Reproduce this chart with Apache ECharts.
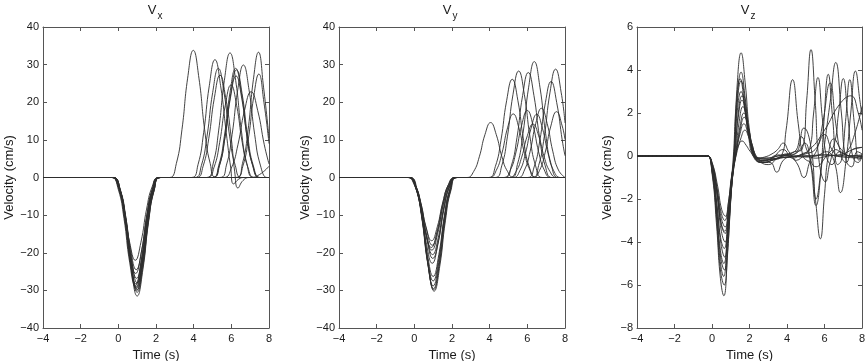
<!DOCTYPE html>
<html>
<head>
<meta charset="utf-8">
<script src="https://cdn.jsdelivr.net/npm/echarts@6/dist/echarts.min.js"></script>
<style>
  html, body { margin: 0; padding: 0; background: #fff; }
  #show { width: 865px; height: 361px; }
</style>
</head>
<body>
<div id="show"></div>
<script>
var myChart = echarts.init(document.getElementById("show"));

// time axis and velocity axes
var timeRange = [-4, 8], timeStep = 2;
var vxRange = [-40, 40], vxStep = 10;
var vyRange = [-40, 40], vyStep = 10;
var vzRange = [-8, 6], vzStep = 2;

// traces, [time (s), velocity (cm/s)]
var vxTraces = [
    [[-4,0],[-0.8,0],[-0.35,0],[0,-2.4],[0.3,-8.4],[0.6,-17.2],[0.9,-22],[1.2,-17.2],[1.5,-8.4],[1.8,-2.4],[2.15,0],[2.73,0],[3.08,3.7],[3.38,12.8],[3.68,26.4],[3.98,33.8],[4.28,26.4],[4.58,12.8],[4.88,3.7],[5.23,0],[8,0]],
    [[-4,0],[-0.8,0],[-0.3,0],[0.05,-2.7],[0.35,-9.3],[0.65,-19.1],[0.95,-24.5],[1.25,-19.1],[1.55,-9.3],[1.85,-2.7],[2.2,0],[3.88,0],[4.23,3.4],[4.53,11.9],[4.83,24.4],[5.13,31.3],[5.43,24.4],[5.73,11.9],[5.97,2.5],[6.12,-1.7],[6.4,-0.4],[6.7,0],[8,0]],
    [[-4,0],[-0.8,0],[-0.33,0],[0.02,-2.8],[0.32,-9.7],[0.62,-19.9],[0.92,-25.5],[1.22,-19.9],[1.52,-9.7],[1.82,-2.8],[2.17,0],[4.06,0],[4.41,3.2],[4.71,11],[5.01,22.6],[5.31,29],[5.61,22.6],[5.91,11],[6.21,3.2],[6.56,0],[8,0]],
    [[-4,0],[-0.8,0],[-0.25,0],[0.1,-3.1],[0.4,-10.6],[0.7,-21.8],[1.0,-28],[1.3,-21.8],[1.6,-10.6],[1.9,-3.1],[2.25,0],[4.15,0],[4.5,3],[4.8,10.3],[5.1,21.2],[5.4,27.2],[5.7,21.2],[6.0,10.3],[6.18,1.5],[6.35,-2.8],[6.62,-0.8],[6.95,0],[8,0]],
    [[-4,0],[-0.8,0],[-0.3,0],[0.05,-3.2],[0.35,-11],[0.65,-22.6],[0.95,-29],[1.25,-22.6],[1.55,-11],[1.85,-3.2],[2.2,0],[4.68,0],[5.03,3.6],[5.33,12.6],[5.63,25.8],[5.93,33.1],[6.23,25.8],[6.53,12.6],[6.83,3.6],[7.18,0],[8,0]],
    [[-4,0],[-0.8,0],[-0.28,0],[0.07,-3.2],[0.37,-11.2],[0.67,-23],[0.97,-29.5],[1.27,-23],[1.57,-11.2],[1.87,-3.2],[2.22,0],[4.73,0],[5.08,2.7],[5.38,9.3],[5.68,19.2],[5.98,24.6],[6.28,19.2],[6.58,9.3],[6.88,2.7],[7.23,0],[8,0]],
    [[-4,0],[-0.8,0],[-0.25,0],[0.1,-3.4],[0.4,-11.6],[0.7,-23.8],[1.0,-30.5],[1.3,-23.8],[1.6,-11.6],[1.9,-3.4],[2.25,0],[4.98,0],[5.33,3.2],[5.63,11],[5.93,22.6],[6.23,29],[6.53,22.6],[6.83,11],[7.13,3.2],[7.48,0],[8,0]],
    [[-4,0],[-0.8,0],[-0.35,0],[0,-3.2],[0.3,-10.9],[0.6,-22.5],[0.9,-28.8],[1.2,-22.5],[1.5,-10.9],[1.8,-3.2],[2.15,0],[5.02,0],[5.37,3.1],[5.67,10.9],[5.97,22.3],[6.27,28.6],[6.57,22.3],[6.87,10.9],[7.17,3.1],[7.52,0],[8,0]],
    [[-4,0],[-0.8,0],[-0.25,0],[0.1,-3.5],[0.4,-12],[0.7,-24.6],[1.0,-31.5],[1.3,-24.6],[1.6,-12],[1.9,-3.5],[2.25,0],[5.0,0],[5.35,3],[5.65,10.3],[5.95,21.1],[6.25,27],[6.55,21.1],[6.85,10.3],[7.15,3],[7.5,0],[8,0]],
    [[-4,0],[-0.8,0],[-0.3,0],[0.05,-3.2],[0.35,-11.1],[0.65,-22.9],[0.95,-29.3],[1.25,-22.9],[1.55,-11.1],[1.85,-3.2],[2.2,0],[5.39,0],[5.74,3.3],[6.04,11.4],[6.34,23.3],[6.64,29.9],[6.94,23.3],[7.24,11.4],[7.54,3.3],[7.89,0],[8,0]],
    [[-4,0],[-0.8,0],[-0.27,0],[0.08,-3.3],[0.38,-11.4],[0.68,-23.4],[0.98,-30],[1.28,-23.4],[1.58,-11.4],[1.88,-3.3],[2.23,0],[5.6,0],[6.0,2.5],[6.35,8.7],[6.7,17.8],[7.05,22.8],[7.4,17.8],[7.75,8.7],[8,3.6]],
    [[-4,0],[-0.8,0],[-0.25,0],[0.1,-3.3],[0.4,-11.3],[0.7,-23.2],[1.0,-29.8],[1.3,-23.2],[1.6,-11.3],[1.9,-3.3],[2.25,0],[6.24,0],[6.59,3.7],[6.89,12.7],[7.17,26],[7.44,33.3],[7.71,24],[8,10.5]],
    [[-4,0],[-0.8,0],[-0.32,0],[0.03,-3.1],[0.33,-10.8],[0.63,-22.1],[0.93,-28.3],[1.23,-22.1],[1.53,-10.8],[1.83,-3.1],[2.18,0],[6.26,0],[6.61,3],[6.91,10.5],[7.19,21.5],[7.46,27.5],[7.73,20],[8,9]],
    [[-4,0],[-0.8,0],[-0.28,0],[0.07,-2.9],[0.37,-10.2],[0.67,-20.9],[0.97,-26.8],[1.27,-20.9],[1.57,-10.2],[1.87,-2.9],[2.22,0],[7.0,0],[7.5,0.8],[8,3]]
];

var vyTraces = [
    [[-4,0],[-0.8,0],[-0.33,0],[0.02,-1.8],[0.32,-6.4],[0.62,-13.1],[0.92,-16.8],[1.22,-13.1],[1.52,-6.4],[1.82,-1.8],[2.17,0],[2.8,0],[3.15,1.6],[3.45,5.5],[3.75,11.4],[4.05,14.6],[4.35,11.4],[4.65,5.5],[4.95,1.6],[5.3,0],[8,0]],
    [[-4,0],[-0.8,0],[-0.3,0],[0.05,-2],[0.35,-6.8],[0.65,-14],[0.95,-18],[1.25,-14],[1.55,-6.8],[1.85,-2],[2.2,0],[3.95,0],[4.3,2.9],[4.6,9.9],[4.9,20.4],[5.2,26.1],[5.5,20.4],[5.8,9.9],[6.1,2.9],[6.45,0],[8,0]],
    [[-4,0],[-0.8,0],[-0.35,0],[0,-2],[0.3,-7.1],[0.6,-14.5],[0.9,-18.6],[1.2,-14.5],[1.5,-7.1],[1.8,-2],[2.15,0],[4.0,0],[4.35,1.9],[4.65,6.4],[4.95,13.2],[5.25,16.9],[5.55,13.2],[5.85,6.4],[6.15,1.9],[6.5,0],[8,0]],
    [[-4,0],[-0.8,0],[-0.32,0],[0.03,-2.1],[0.33,-7.3],[0.63,-15.1],[0.93,-19.3],[1.23,-15.1],[1.53,-7.3],[1.83,-2.1],[2.18,0],[4.29,0],[4.64,3.1],[4.94,10.8],[5.24,22.1],[5.54,28.3],[5.84,22.1],[6.14,10.8],[6.44,3.1],[6.79,0],[8,0]],
    [[-4,0],[-0.8,0],[-0.28,0],[0.07,-2.3],[0.37,-7.8],[0.67,-16],[0.97,-20.5],[1.27,-16],[1.57,-7.8],[1.87,-2.3],[2.22,0],[4.8,0],[5.15,3.1],[5.45,10.6],[5.75,21.8],[6.05,27.9],[6.35,21.8],[6.65,10.6],[6.95,3.1],[7.3,0],[8,0]],
    [[-4,0],[-0.8,0],[-0.27,0],[0.08,-2.4],[0.38,-8.2],[0.68,-16.8],[0.98,-21.5],[1.28,-16.8],[1.58,-8.2],[1.88,-2.4],[2.23,0],[4.75,0],[5.1,2],[5.4,6.8],[5.7,13.9],[6.0,17.8],[6.3,13.9],[6.6,6.8],[6.9,2],[7.25,0],[8,0]],
    [[-4,0],[-0.8,0],[-0.3,0],[0.05,-2.5],[0.35,-8.7],[0.65,-17.8],[0.95,-22.8],[1.25,-17.8],[1.55,-8.7],[1.85,-2.5],[2.2,0],[5.12,0],[5.47,3.4],[5.77,11.7],[6.07,24],[6.37,30.8],[6.67,24],[6.97,11.7],[7.27,3.4],[7.62,0],[8,0]],
    [[-4,0],[-0.8,0],[-0.25,0],[0.1,-2.9],[0.4,-10],[0.7,-20.5],[1.0,-26.3],[1.3,-20.5],[1.6,-10],[1.9,-2.9],[2.25,0],[5.05,0],[5.4,1.6],[5.7,5.4],[6.0,11.1],[6.3,14.2],[6.6,11.1],[6.9,5.4],[7.2,1.6],[7.55,0],[8,0]],
    [[-4,0],[-0.8,0],[-0.25,0],[0.1,-3],[0.4,-10.5],[0.7,-21.5],[1.0,-27.5],[1.3,-21.5],[1.6,-10.5],[1.9,-3],[2.25,0],[5.25,0],[5.6,1.8],[5.9,6.4],[6.2,13.1],[6.5,16.8],[6.8,13.1],[7.1,6.4],[7.4,1.8],[7.75,0],[8,0]],
    [[-4,0],[-0.8,0],[-0.25,0],[0.1,-3.2],[0.4,-10.9],[0.7,-22.5],[1.0,-28.8],[1.3,-22.5],[1.6,-10.9],[1.9,-3.2],[2.25,0],[5.5,0],[5.85,2],[6.15,7],[6.45,14.4],[6.75,18.4],[7.05,14.4],[7.35,7],[7.65,2],[8,0]],
    [[-4,0],[-0.8,0],[-0.23,0],[0.12,-3.2],[0.42,-11.2],[0.72,-23],[1.02,-29.5],[1.32,-23],[1.62,-11.2],[1.92,-3.2],[2.27,0],[6.01,0],[6.36,2.8],[6.66,9.7],[6.96,19.9],[7.26,25.5],[7.56,19.9],[7.86,9.7],[8,5.8]],
    [[-4,0],[-0.8,0],[-0.22,0],[0.13,-3.3],[0.43,-11.3],[0.73,-23.2],[1.03,-29.8],[1.33,-23.2],[1.63,-11.3],[1.93,-3.3],[2.28,0],[6.25,0],[6.6,3.2],[6.9,10.9],[7.2,22.5],[7.5,28.8],[7.8,22.5],[8,14.5]],
    [[-4,0],[-0.8,0],[-0.2,0],[0.15,-3.3],[0.45,-11.5],[0.75,-23.6],[1.05,-30.2],[1.35,-23.6],[1.65,-11.5],[1.95,-3.3],[2.3,0],[6.3,0],[6.65,1.9],[6.95,6.7],[7.25,13.7],[7.55,17.5],[7.85,13.7],[8,10.1]]
];

var vzTraces = [
    [[-4,0],[-0.6,0],[-0.25,0],[0,-0.8],[0.25,-3.3],[0.45,-5.7],[0.63,-6.5],[0.82,-4.7],[1.0,-2.0],[1.17,0],[1.35,3.4],[1.55,4.8],[1.77,3.4],[2.0,1.2],[2.3,-0.1],[2.7,-0.3],[3.2,-0.2],[3.8,0],[4.4,0.2],[4.8,0.3],[5.05,2.6],[5.28,4.95],[5.5,2.6],[5.72,-0.3],[6.05,-1.2],[6.3,-0.3],[6.6,0.3],[7.0,0.1],[7.5,0],[8,0]],
    [[-4,0],[-0.6,0],[-0.25,0],[0,-0.7],[0.25,-3.0],[0.45,-5.3],[0.65,-6.0],[0.84,-4.3],[1.02,-1.8],[1.18,0],[1.35,2.7],[1.55,3.9],[1.77,2.7],[2.0,1.0],[2.3,-0.1],[2.7,-0.3],[3.2,-0.2],[3.7,0],[3.95,1.2],[4.3,3.55],[4.6,1.5],[4.85,0],[5.05,-0.2],[5.25,-0.3],[5.5,-1.9],[5.78,-3.85],[6.0,-1.8],[6.2,0],[6.5,0.8],[6.9,0.3],[7.4,0],[8,0]],
    [[-4,0],[-0.6,0],[-0.25,0],[0,-0.7],[0.25,-2.8],[0.44,-4.9],[0.62,-5.6],[0.8,-4.0],[0.98,-1.7],[1.14,0],[1.3,2.5],[1.5,3.6],[1.72,2.5],[1.95,0.9],[2.25,-0.1],[2.7,-0.3],[3.1,-0.3],[3.45,-0.75],[3.8,-0.2],[4.2,0],[4.6,0.2],[4.95,0.6],[5.25,-0.3],[5.55,-2.3],[5.8,-0.8],[5.97,1.6],[6.2,3.8],[6.43,1.8],[6.7,-0.4],[6.9,-0.2],[7.12,1.6],[7.35,3.55],[7.58,1.6],[7.85,-0.2],[8,0.1]],
    [[-4,0],[-0.6,0],[-0.25,0],[0,-0.6],[0.25,-2.6],[0.46,-4.7],[0.66,-5.3],[0.85,-3.8],[1.03,-1.6],[1.19,0],[1.35,2.5],[1.55,3.5],[1.77,2.5],[2.0,0.9],[2.3,-0.1],[2.7,-0.2],[3.2,-0.15],[4,-0.05],[5,0],[6,0.05],[7,0],[8,0.05]],
    [[-4,0],[-0.6,0],[-0.25,0],[0,-0.6],[0.25,-2.5],[0.45,-4.4],[0.63,-5.0],[0.82,-3.6],[1.0,-1.5],[1.17,0],[1.35,2.1],[1.55,3.0],[1.77,2.1],[2.0,0.8],[2.3,-0.1],[2.6,-0.25],[3.2,-0.1],[3.8,0.3],[4.3,-0.1],[4.8,0.1],[5.2,0.3],[5.42,2.0],[5.65,3.65],[5.88,1.8],[6.1,0],[6.4,-0.4],[6.8,0.2],[7.3,0],[8,-0.1]],
    [[-4,0],[-0.6,0],[-0.25,0],[0,-0.5],[0.27,-2.3],[0.48,-4.1],[0.68,-4.7],[0.87,-3.4],[1.05,-1.4],[1.22,0],[1.4,2.0],[1.6,2.8],[1.82,2.0],[2.05,0.7],[2.35,-0.1],[2.7,-0.2],[3.5,-0.1],[4.5,0],[5.2,0.3],[6.0,1.2],[6.8,2.4],[7.4,2.8],[7.8,2.0],[8,1.2]],
    [[-4,0],[-0.6,0],[-0.25,0],[0,-0.5],[0.25,-2.2],[0.46,-3.8],[0.65,-4.3],[0.84,-3.1],[1.02,-1.3],[1.2,0],[1.4,1.8],[1.6,2.6],[1.82,1.8],[2.05,0.65],[2.35,-0.1],[2.6,-0.3],[3.0,-0.4],[3.5,-0.1],[4.0,0.1],[4.5,-0.3],[4.9,-1.0],[5.25,-0.2],[5.6,0.3],[5.9,1.5],[6.3,3.4],[6.6,1.5],[6.9,0],[7.15,-0.3],[7.5,0.3],[8,0.4]],
    [[-4,0],[-0.6,0],[-0.25,0],[0,-0.4],[0.28,-1.9],[0.5,-3.5],[0.7,-4.0],[0.89,-2.9],[1.07,-1.2],[1.25,0],[1.45,1.6],[1.65,2.3],[1.87,1.6],[2.1,0.6],[2.4,-0.1],[2.8,-0.2],[3.5,0],[4.4,0.1],[4.9,1.3],[5.3,0.3],[5.55,-2.0],[5.85,-0.4],[6.3,2.5],[6.6,4.35],[6.9,2.0],[7.15,-0.2],[7.45,-0.5],[7.75,0.2],[8,0.1]],
    [[-4,0],[-0.6,0],[-0.25,0],[0,-0.4],[0.27,-1.7],[0.48,-3.1],[0.68,-3.5],[0.87,-2.5],[1.05,-1.0],[1.25,0],[1.5,1.4],[1.7,2.0],[1.92,1.4],[2.15,0.5],[2.45,-0.1],[2.9,-0.1],[3.5,0],[4.4,0.2],[4.75,0.9],[5.1,0.2],[5.55,-0.5],[6.1,0],[6.5,0.5],[6.75,2.0],[7.0,3.6],[7.25,1.8],[7.5,0],[7.8,-0.3],[8,0]],
    [[-4,0],[-0.6,0],[-0.25,0],[0,-0.35],[0.28,-1.6],[0.5,-2.9],[0.7,-3.3],[0.89,-2.4],[1.07,-1.0],[1.27,0],[1.52,1.3],[1.72,1.8],[1.94,1.3],[2.17,0.45],[2.45,-0.1],[3.0,-0.1],[3.5,0.05],[4.5,0],[5.5,0],[6.1,0.2],[6.5,-0.2],[6.85,-1.7],[7.15,-0.2],[7.4,2.0],[7.65,3.95],[7.9,2.5],[8,1.9]],
    [[-4,0],[-0.6,0],[-0.25,0],[0,-0.3],[0.27,-1.5],[0.48,-2.6],[0.68,-3.0],[0.87,-2.2],[1.05,-0.9],[1.25,0],[1.5,1.05],[1.7,1.5],[1.92,1.05],[2.15,0.4],[2.45,-0.1],[2.8,-0.3],[3.2,-0.2],[4,0],[5,-0.05],[6,0.05],[7,-0.05],[8,-0.1]],
    [[-4,0],[-0.6,0],[-0.25,0],[0,-0.3],[0.3,-1.4],[0.52,-2.5],[0.72,-2.8],[0.9,-2.0],[1.08,-0.8],[1.28,0],[1.55,0.85],[1.75,1.2],[1.97,0.85],[2.2,0.3],[2.5,-0.1],[3.0,-0.15],[3.5,-0.1],[4.5,0],[5.0,0.1],[5.5,0.3],[6.0,1.0],[6.4,0.3],[6.8,0],[7.2,0.2],[7.6,1.0],[8,2.3]],
    [[-4,0],[-0.6,0],[-0.25,0],[0,-0.4],[0.28,-1.8],[0.5,-3.2],[0.7,-3.6],[0.89,-2.6],[1.07,-1.1],[1.25,0],[1.42,0.5],[1.6,0.7],[1.82,0.5],[2.05,0.2],[2.4,-0.1],[2.8,-0.05],[3.2,0.1],[3.5,0.3],[3.8,0.6],[4.1,0.2],[4.5,-0.2],[5.0,0],[5.5,-0.1],[6.2,0],[7,0.1],[7.5,0.3],[8,0.4]]
];

var panelTitles = [['V', 'x'], ['V', 'y'], ['V', 'z']];

var panels = [
    {traces: vxTraces, range: vxRange, step: vxStep, left: 43, width: 226, nameGap: 27, titleX: 152},
    {traces: vyTraces, range: vyRange, step: vyStep, left: 339, width: 226, nameGap: 27, titleX: 447},
    {traces: vzTraces, range: vzRange, step: vzStep, left: 637, width: 225, nameGap: 23, titleX: 745}
];

var frameColor = '#555';
var textColor = '#1a1a1a';
var font = 'Liberation Sans';

function minus(v) { return String(v).replace('-', '\u2212'); }

var grid = [], xAxis = [], yAxis = [], series = [], graphic = [];

panels.forEach(function (p, i) {
    grid.push({left: p.left, width: p.width, top: 27, bottom: 33, outerBoundsMode: 'none'});

    var tick = {show: true, inside: true, length: 4, lineStyle: {color: frameColor, width: 1}};
    var line = {show: true, onZero: false, lineStyle: {color: frameColor, width: 1}};

    xAxis.push({
        type: 'value', gridIndex: i, position: 'bottom',
        min: timeRange[0], max: timeRange[1], interval: timeStep,
        axisLine: line, axisTick: tick, splitLine: {show: false},
        axisLabel: {margin: 5, fontSize: 11, color: textColor, fontFamily: font, formatter: minus},
        name: 'Time (s)', nameLocation: 'middle', nameGap: 16,
        nameTextStyle: {fontSize: 13, color: textColor, fontFamily: font}
    });
    xAxis.push({
        type: 'value', gridIndex: i, position: 'top',
        min: timeRange[0], max: timeRange[1], interval: timeStep,
        axisLine: line, axisTick: tick, splitLine: {show: false},
        axisLabel: {show: false}
    });
    yAxis.push({
        type: 'value', gridIndex: i, position: 'left',
        min: p.range[0], max: p.range[1], interval: p.step,
        axisLine: line, axisTick: tick, splitLine: {show: false},
        axisLabel: {margin: 4, fontSize: 11, color: textColor, fontFamily: font, formatter: minus},
        name: 'Velocity (cm/s)', nameLocation: 'middle', nameGap: p.nameGap,
        nameTextStyle: {fontSize: 13, color: textColor, fontFamily: font}
    });
    yAxis.push({
        type: 'value', gridIndex: i, position: 'right',
        min: p.range[0], max: p.range[1], interval: p.step,
        axisLine: line, axisTick: tick, splitLine: {show: false},
        axisLabel: {show: false}
    });

    p.traces.forEach(function (tr) {
        series.push({
            type: 'line', xAxisIndex: 2 * i, yAxisIndex: 2 * i,
            data: tr, showSymbol: false, smooth: 0.5,
            silent: true,
            lineStyle: {color: '#2e2e2e', width: 0.9}
        });
    });

    graphic.push({
        type: 'text', x: p.titleX, y: 10,
        style: {text: panelTitles[i][0], fontSize: 13, fontFamily: font, fill: textColor,
                align: 'center', verticalAlign: 'middle'}
    });
    graphic.push({
        type: 'text', x: p.titleX + 8, y: 16,
        style: {text: panelTitles[i][1], fontSize: 10, fontFamily: font, fill: textColor,
                align: 'center', verticalAlign: 'middle'}
    });
});

myChart.setOption({
    animation: false,
    backgroundColor: '#fff',
    grid: grid,
    xAxis: xAxis,
    yAxis: yAxis,
    graphic: graphic,
    series: series
});
</script>
</body>
</html>
